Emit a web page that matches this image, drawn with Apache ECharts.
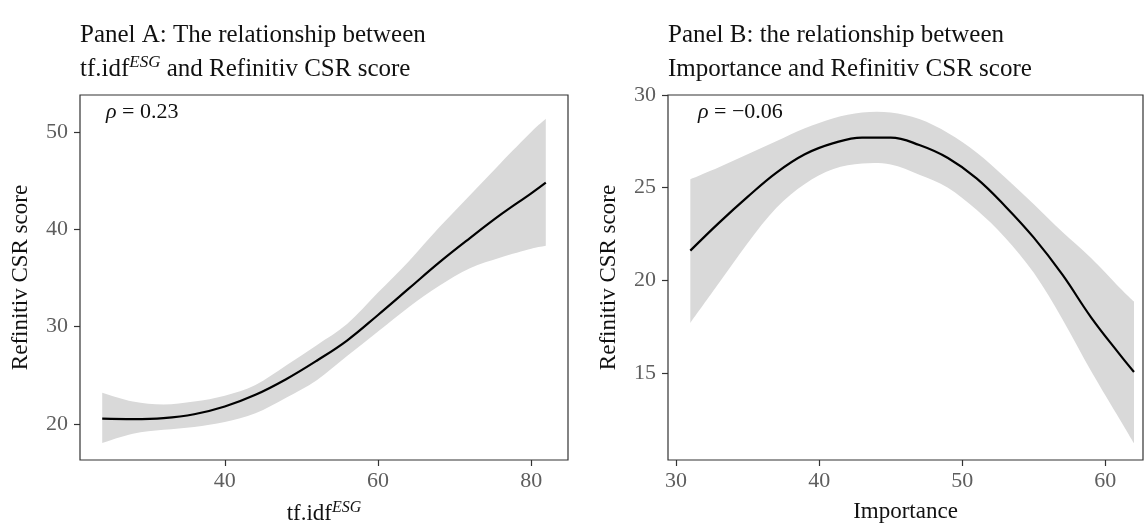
<!DOCTYPE html>
<html>
<head>
<meta charset="utf-8">
<script src="https://cdn.jsdelivr.net/npm/echarts@6/dist/echarts.min.js"></script>
<style>
  html, body { margin: 0; padding: 0; background: #fff; }
  #chart { width: 1144px; height: 525px; }
</style>
</head>
<body>
<div id="chart"></div>
<script>
// Panel A: tf.idf^ESG vs Refinitiv CSR score
const tfidfX = [24, 28, 32, 36, 40, 44, 48, 52, 56, 60, 64, 68, 72, 76, 80, 81.9];
const tfidfFit = [20.55, 20.5, 20.6, 21.0, 21.8, 23.0, 24.6, 26.5, 28.6, 31.2, 33.9, 36.6, 39.1, 41.5, 43.7, 44.8];
const tfidfUpper = [23.2, 22.3, 22.0, 22.3, 22.9, 24.0, 26.0, 28.1, 30.3, 33.5, 36.7, 40.2, 43.5, 46.8, 50.0, 51.35];
const tfidfLower = [18.05, 19.0, 19.4, 19.7, 20.2, 21.1, 22.7, 24.5, 27.0, 29.5, 32.0, 34.2, 36.0, 37.1, 38.0, 38.3];
const tfidfXTicks = [40, 60, 80];
const tfidfYTicks = [20, 30, 40, 50];

// Panel B: Importance vs Refinitiv CSR score
const impX = [31, 33, 35, 37, 39, 41, 43, 45, 47, 49, 51, 53, 55, 57, 59, 61, 62];
const impFit = [21.6, 23.1, 24.5, 25.8, 26.8, 27.4, 27.7, 27.7, 27.3, 26.6, 25.5, 24.0, 22.3, 20.3, 18.0, 16.0, 15.05];
const impUpper = [25.45, 26.1, 26.8, 27.5, 28.2, 28.75, 29.05, 29.05, 28.7, 27.95, 26.9, 25.55, 24.1, 22.6, 21.2, 19.6, 18.85];
const impLower = [17.7, 19.85, 22.0, 23.9, 25.2, 26.0, 26.3, 26.25, 25.7, 25.0, 23.8, 22.3, 20.4, 17.9, 15.1, 12.5, 11.2];
const impXTicks = [30, 40, 50, 60];
const impYTicks = [15, 20, 25, 30];

const rhoA = "0.23";
const rhoB = "\u22120.06";

const serif = "'Liberation Serif', 'DejaVu Serif', serif";
const bandColor = "#d9d9d9";
const frameColor = "#333";
const tickGrey = "#5e5e5e";
const labelSize = 22;

const zip = (xs, ys) => xs.map((x, i) => [x, ys[i]]);

function xAxisCfg(idx, min, max, ticks, nameRich) {
  return {
    type: "value",
    gridIndex: idx,
    min: min,
    max: max,
    name: nameRich,
    nameLocation: "middle",
    nameGap: 40,
    nameTextStyle: {
      fontFamily: serif,
      fontSize: 23,
      color: "#111",
      rich: {
        n: { fontFamily: serif, fontSize: 23, color: "#111" },
        sup: { fontFamily: serif, fontSize: 16, fontStyle: "italic", color: "#111", padding: [0, 0, 11, 0] }
      }
    },
    splitLine: { show: false },
    axisLine: { show: false },
    axisTick: { show: true, inside: false, length: 6, customValues: ticks, lineStyle: { color: frameColor, width: 1.2 } },
    axisLabel: { customValues: ticks, color: tickGrey, fontFamily: serif, fontSize: labelSize, margin: 10 }
  };
}

function yAxisCfg(idx, min, max, ticks) {
  return {
    type: "value",
    gridIndex: idx,
    min: min,
    max: max,
    name: "Refinitiv CSR score",
    nameLocation: "middle",
    nameGap: 48,
    nameTextStyle: { fontFamily: serif, fontSize: 23, color: "#111" },
    splitLine: { show: false },
    axisLine: { show: false },
    axisTick: { show: true, inside: false, length: 6, customValues: ticks, lineStyle: { color: frameColor, width: 1.2 } },
    axisLabel: { customValues: ticks, color: tickGrey, fontFamily: serif, fontSize: labelSize, margin: 12 }
  };
}

// smooth path through pixel points (catmull-rom drawn as cubic beziers)
function curvePath(pts, start) {
  let d = start ? "M" + pts[0][0] + "," + pts[0][1] : "L" + pts[0][0] + "," + pts[0][1];
  for (let i = 0; i < pts.length - 1; i++) {
    const p0 = pts[Math.max(i - 1, 0)];
    const p1 = pts[i];
    const p2 = pts[i + 1];
    const p3 = pts[Math.min(i + 2, pts.length - 1)];
    const c1x = p1[0] + (p2[0] - p0[0]) / 6, c1y = p1[1] + (p2[1] - p0[1]) / 6;
    const c2x = p2[0] - (p3[0] - p1[0]) / 6, c2y = p2[1] - (p3[1] - p1[1]) / 6;
    d += " C" + c1x + "," + c1y + " " + c2x + "," + c2y + " " + p2[0] + "," + p2[1];
  }
  return d;
}

// confidence band as one closed shape, positioned through the axis scales
function bandSeries(idx, xs, lower, upper) {
  return {
    type: "custom",
    xAxisIndex: idx,
    yAxisIndex: idx,
    silent: true,
    z: 1,
    data: [0],
    encode: { x: [], y: [] },
    renderItem: function (params, api) {
      const top = xs.map((x, i) => api.coord([x, upper[i]]));
      const bot = xs.map((x, i) => api.coord([x, lower[i]])).reverse();
      const d = curvePath(top, true) + " " + curvePath(bot, false) + " Z";
      return {
        type: "path",
        shape: { pathData: d },
        style: { fill: bandColor }
      };
    }
  };
}

function fitSeries(idx, xs, ys) {
  return {
    type: "line",
    xAxisIndex: idx,
    yAxisIndex: idx,
    data: zip(xs, ys),
    smooth: 0.4,
    symbol: "none",
    lineStyle: { color: "#000", width: 2.2 },
    z: 3
  };
}

const titleStyle = {
  fontFamily: serif,
  fontSize: 25,
  fontWeight: "normal",
  color: "#111",
  lineHeight: 34,
  rich: {
    t: { fontFamily: serif, fontSize: 25, color: "#111", lineHeight: 34 },
    sup: { fontFamily: serif, fontSize: 17, fontStyle: "italic", color: "#111", padding: [0, 0, 12, 0] }
  }
};
const rhoStyle = {
  fontFamily: serif,
  fontSize: labelSize,
  fontWeight: "normal",
  color: "#111",
  rich: {
    r: { fontFamily: serif, fontSize: labelSize, fontStyle: "italic", color: "#111" },
    v: { fontFamily: serif, fontSize: labelSize, color: "#111" }
  }
};

const chart = echarts.init(document.getElementById("chart"), null, { renderer: "canvas" });
chart.setOption({
  animation: false,
  backgroundColor: "#fff",
  title: [
    {
      text: "{t|Panel A: The relationship between}\n{t|tf.idf}{sup|ESG}{t| and Refinitiv CSR score}",
      left: 80, top: 18, padding: 0, textStyle: titleStyle
    },
    {
      text: "{t|Panel B: the relationship between}\n{t|Importance and Refinitiv CSR score}",
      left: 668, top: 18, padding: 0, textStyle: titleStyle
    },
    { text: "{r|\u03c1}{v| = " + rhoA + "}", left: 106, top: 101, padding: 0, textStyle: rhoStyle },
    { text: "{r|\u03c1}{v| = " + rhoB + "}", left: 698, top: 101, padding: 0, textStyle: rhoStyle }
  ],
  grid: [
    { left: 80, top: 95, width: 488, height: 365, outerBoundsMode: "none", containLabel: false, show: true, borderColor: frameColor, borderWidth: 1.2, backgroundColor: "transparent", z: 5 },
    { left: 668, top: 95, width: 475, height: 365, outerBoundsMode: "none", containLabel: false, show: true, borderColor: frameColor, borderWidth: 1.2, backgroundColor: "transparent", z: 5 }
  ],
  xAxis: [
    xAxisCfg(0, 21.1, 84.8, tfidfXTicks, "{n|tf.idf}{sup|ESG}"),
    xAxisCfg(1, 29.44, 62.63, impXTicks, "{n|Importance}")
  ],
  yAxis: [
    yAxisCfg(0, 16.3, 53.8, tfidfYTicks),
    yAxisCfg(1, 10.3, 30, impYTicks)
  ],
  series: [
    bandSeries(0, tfidfX, tfidfLower, tfidfUpper),
    fitSeries(0, tfidfX, tfidfFit),
    bandSeries(1, impX, impLower, impUpper),
    fitSeries(1, impX, impFit)
  ]
});
</script>
</body>
</html>
